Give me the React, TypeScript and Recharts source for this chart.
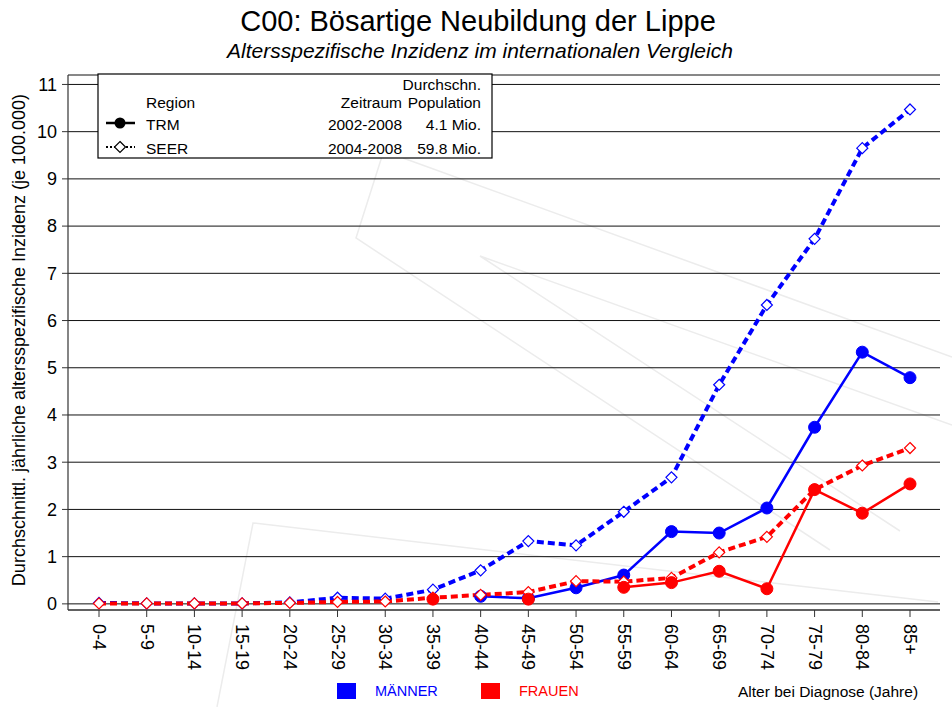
import React from 'react';
import { LineChart, Line, XAxis, YAxis, CartesianGrid } from 'recharts';

const categories = ['0-4','5-9','10-14','15-19','20-24','25-29','30-34','35-39','40-44','45-49','50-54','55-59','60-64','65-69','70-74','75-79','80-84','85+'];
const seerMaenner = [0.02,0.01,0.01,0.01,0.03,0.13,0.11,0.3,0.71,1.33,1.24,1.95,2.68,4.64,6.33,7.73,9.65,10.47];
const seerFrauen = [0.01,0.01,0.01,0.01,0.02,0.04,0.05,0.13,0.19,0.25,0.48,0.47,0.55,1.09,1.42,2.42,2.93,3.3];
const trmMaenner: (number | null)[] = [null,null,null,null,null,null,null,null,0.16,0.12,0.34,0.61,1.53,1.5,2.03,3.74,5.33,4.79];
const trmFrauen: (number | null)[] = [null,null,null,null,null,null,null,0.1,null,0.1,null,0.35,0.45,0.69,0.32,2.42,1.92,2.54];
const yTicks = [0,1,2,3,4,5,6,7,8,9,10,11];

const BLUE = '#0000ff';
const RED = '#ff0000';
const FONT = '"Liberation Sans", Arial, sans-serif';

const data = categories.map((c, i) => ({
  cat: c,
  seerM: seerMaenner[i],
  seerF: seerFrauen[i],
  trmM: trmMaenner[i],
  trmF: trmFrauen[i],
}));

const diamondDot = (color: string) => (props: any) => {
  const { cx, cy, index } = props;
  if (cx == null || cy == null || isNaN(cy)) return <g key={'d' + index} />;
  const s = 5.5;
  return (
    <path key={'d' + index} d={`M${cx},${cy - s}L${cx + s},${cy}L${cx},${cy + s}L${cx - s},${cy}Z`}
      fill="#fff" stroke={color} strokeWidth={1.2} />
  );
};

const XTick = (props: any) => {
  const { x, y, payload } = props;
  return (
    <text x={x} y={y} transform={`rotate(90 ${x} ${y})`} textAnchor="start" dominantBaseline="central"
      fontSize={18} fontFamily={FONT} fill="#000">{payload.value}</text>
  );
};

export default function App() {
  const wm = '#ececec';
  return (
    <div style={{ position: 'absolute', left: 0, top: 0, width: 952, height: 707, background: '#fff', fontFamily: FONT }}>
      <svg width={952} height={707} style={{ position: 'absolute', left: 0, top: 0 }}>
        <g stroke={wm} strokeWidth={1.5} fill="none">
          <polyline points="384,150 356,238 830,550" />
          <polyline points="403,158 952,357" />
          <polyline points="952,425 480,256 900,531" />
          <polyline points="217,707 253,523 938,602" />
        </g>
      </svg>
      <div style={{ position: 'absolute', left: 0, top: 0 }}>
        <LineChart width={952} height={707} data={data} margin={{ top: 75, right: 12, bottom: 0, left: 0 }}>
          <CartesianGrid vertical={false} stroke="#111" strokeWidth={1} />
          <XAxis dataKey="cat" scale="point" padding={{ left: 31, right: 30 }} height={97}
            tick={<XTick />} tickSize={7} tickMargin={7} interval={0}
            axisLine={{ stroke: '#555', strokeWidth: 1.5 }} tickLine={{ stroke: '#333' }} />
          <YAxis type="number" domain={[-0.13, 11.2]} ticks={yTicks} allowDataOverflow width={68}
            tickSize={6} tickMargin={5} interval={0}
            tick={{ fontSize: 18, fill: '#000', fontFamily: FONT }}
            axisLine={{ stroke: '#333', strokeWidth: 1.2 }} tickLine={{ stroke: '#333' }} />
          <Line dataKey="seerM" stroke={BLUE} strokeWidth={4} strokeDasharray="7 4" dot={diamondDot(BLUE)}
            isAnimationActive={false} activeDot={false} />
          <Line dataKey="trmM" stroke={BLUE} strokeWidth={2.5} dot={{ r: 6, fill: BLUE, stroke: BLUE, strokeWidth: 1 }}
            connectNulls={false} isAnimationActive={false} activeDot={false} />
          <Line dataKey="seerF" stroke={RED} strokeWidth={4} strokeDasharray="7 4" dot={diamondDot(RED)}
            isAnimationActive={false} activeDot={false} />
          <Line dataKey="trmF" stroke={RED} strokeWidth={2.5} dot={{ r: 6, fill: RED, stroke: RED, strokeWidth: 1 }}
            connectNulls={false} isAnimationActive={false} activeDot={false} />
        </LineChart>
      </div>
      <svg width={952} height={707} style={{ position: 'absolute', left: 0, top: 0, pointerEvents: 'none' }} fontFamily={FONT}>
        <text x={478} y={31} textAnchor="middle" fontSize={29} fill="#000">C00: Bösartige Neubildung der Lippe</text>
        <text x={480} y={58} textAnchor="middle" fontSize={21} fontStyle="italic" fill="#000">Altersspezifische Inzidenz im internationalen Vergleich</text>
        <text transform="translate(25 340) rotate(-90)" textAnchor="middle" fontSize={18} fill="#000">Durchschnittl. jährliche altersspezifische Inzidenz (je 100.000)</text>

        <rect x={98} y={74} width={394} height={84} fill="#fff" stroke="#000" strokeWidth={1.2} />
        <g fontSize={15.5} fill="#000">
          <text x={481} y={90} textAnchor="end">Durchschn.</text>
          <text x={146} y={108}>Region</text>
          <text x={402} y={108} textAnchor="end">Zeitraum</text>
          <text x={481} y={108} textAnchor="end">Population</text>
          <text x={146} y={130}>TRM</text>
          <text x={402} y={130} textAnchor="end">2002-2008</text>
          <text x={481} y={130} textAnchor="end">4.1 Mio.</text>
          <text x={146} y={154}>SEER</text>
          <text x={402} y={154} textAnchor="end">2004-2008</text>
          <text x={481} y={154} textAnchor="end">59.8 Mio.</text>
        </g>
        <line x1={106} y1={123} x2={135} y2={123} stroke="#000" strokeWidth={2.5} />
        <circle cx={120} cy={123} r={5.5} fill="#000" />
        <line x1={106} y1={147} x2={135} y2={147} stroke="#000" strokeWidth={2} strokeDasharray="2 2" />
        <path d="M120,141.5L125.5,147L120,152.5L114.5,147Z" fill="#fff" stroke="#000" strokeWidth={1.2} />

        <rect x={337} y={683} width={19} height={16} fill={BLUE} />
        <text x={375} y={696} fontSize={14.5} fill={BLUE}>MÄNNER</text>
        <rect x={481} y={683} width={19} height={16} fill={RED} />
        <text x={519} y={696} fontSize={14.5} fill={RED}>FRAUEN</text>
        <text x={738} y={697} fontSize={15.5} fill="#000">Alter bei Diagnose (Jahre)</text>
      </svg>
    </div>
  );
}
